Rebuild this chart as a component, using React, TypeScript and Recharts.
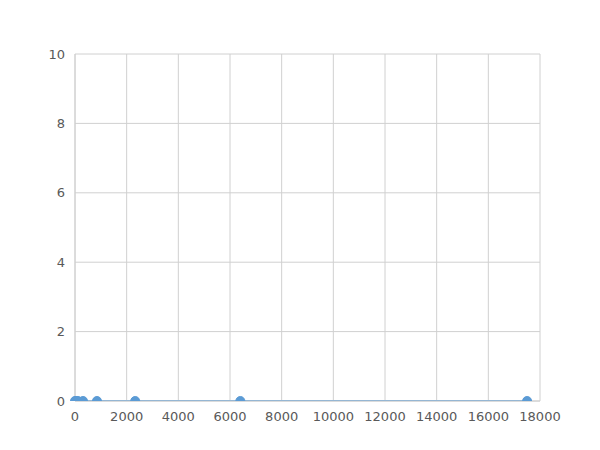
import React from "react";
import { LineChart, Line, XAxis, YAxis, CartesianGrid } from "recharts";

const xValues = [17500, 6400, 2330, 850, 310, 113, 41, 0];
const yValues = [0, 0, 0, 0, 0, 0, 0, 0];
const xTicks = [0, 2000, 4000, 6000, 8000, 10000, 12000, 14000, 16000, 18000];
const yTicks = [0, 2, 4, 6, 8, 10];

const data = xValues.map((x, i) => ({ x, y: yValues[i] })).sort((a, b) => a.x - b.x);

export default function App() {
  return (
    <div style={{ width: 600, height: 450, fontFamily: "DejaVu Sans" }}>
      <LineChart
        width={600}
        height={450}
        data={data}
        margin={{ top: 46, right: 68, left: 27, bottom: 27 }}
      >
        <CartesianGrid stroke="#d0d0d0" strokeWidth={1} />
        <XAxis
          dataKey="x"
          type="number"
          domain={[0, 18000]}
          ticks={xTicks}
          interval={0}
          tickLine={false}
          axisLine={{ stroke: "#d0d0d0" }}
          tick={{ fill: "#595959", fontSize: 13 }}
          tickMargin={5}
          height={30}
        />
        <YAxis
          type="number"
          domain={[0, 10]}
          ticks={yTicks}
          allowDataOverflow
          tickLine={false}
          axisLine={{ stroke: "#d0d0d0" }}
          tick={{ fill: "#595959", fontSize: 13 }}
          tickMargin={4}
          width={40}
        />
        <Line
          dataKey="y"
          stroke="#5b9bd5"
          strokeWidth={2}
          dot={{ r: 4.5, fill: "#5b9bd5", stroke: "#5b9bd5", strokeWidth: 1, clipDot: true }}
          isAnimationActive={false}
        />
      </LineChart>
    </div>
  );
}
